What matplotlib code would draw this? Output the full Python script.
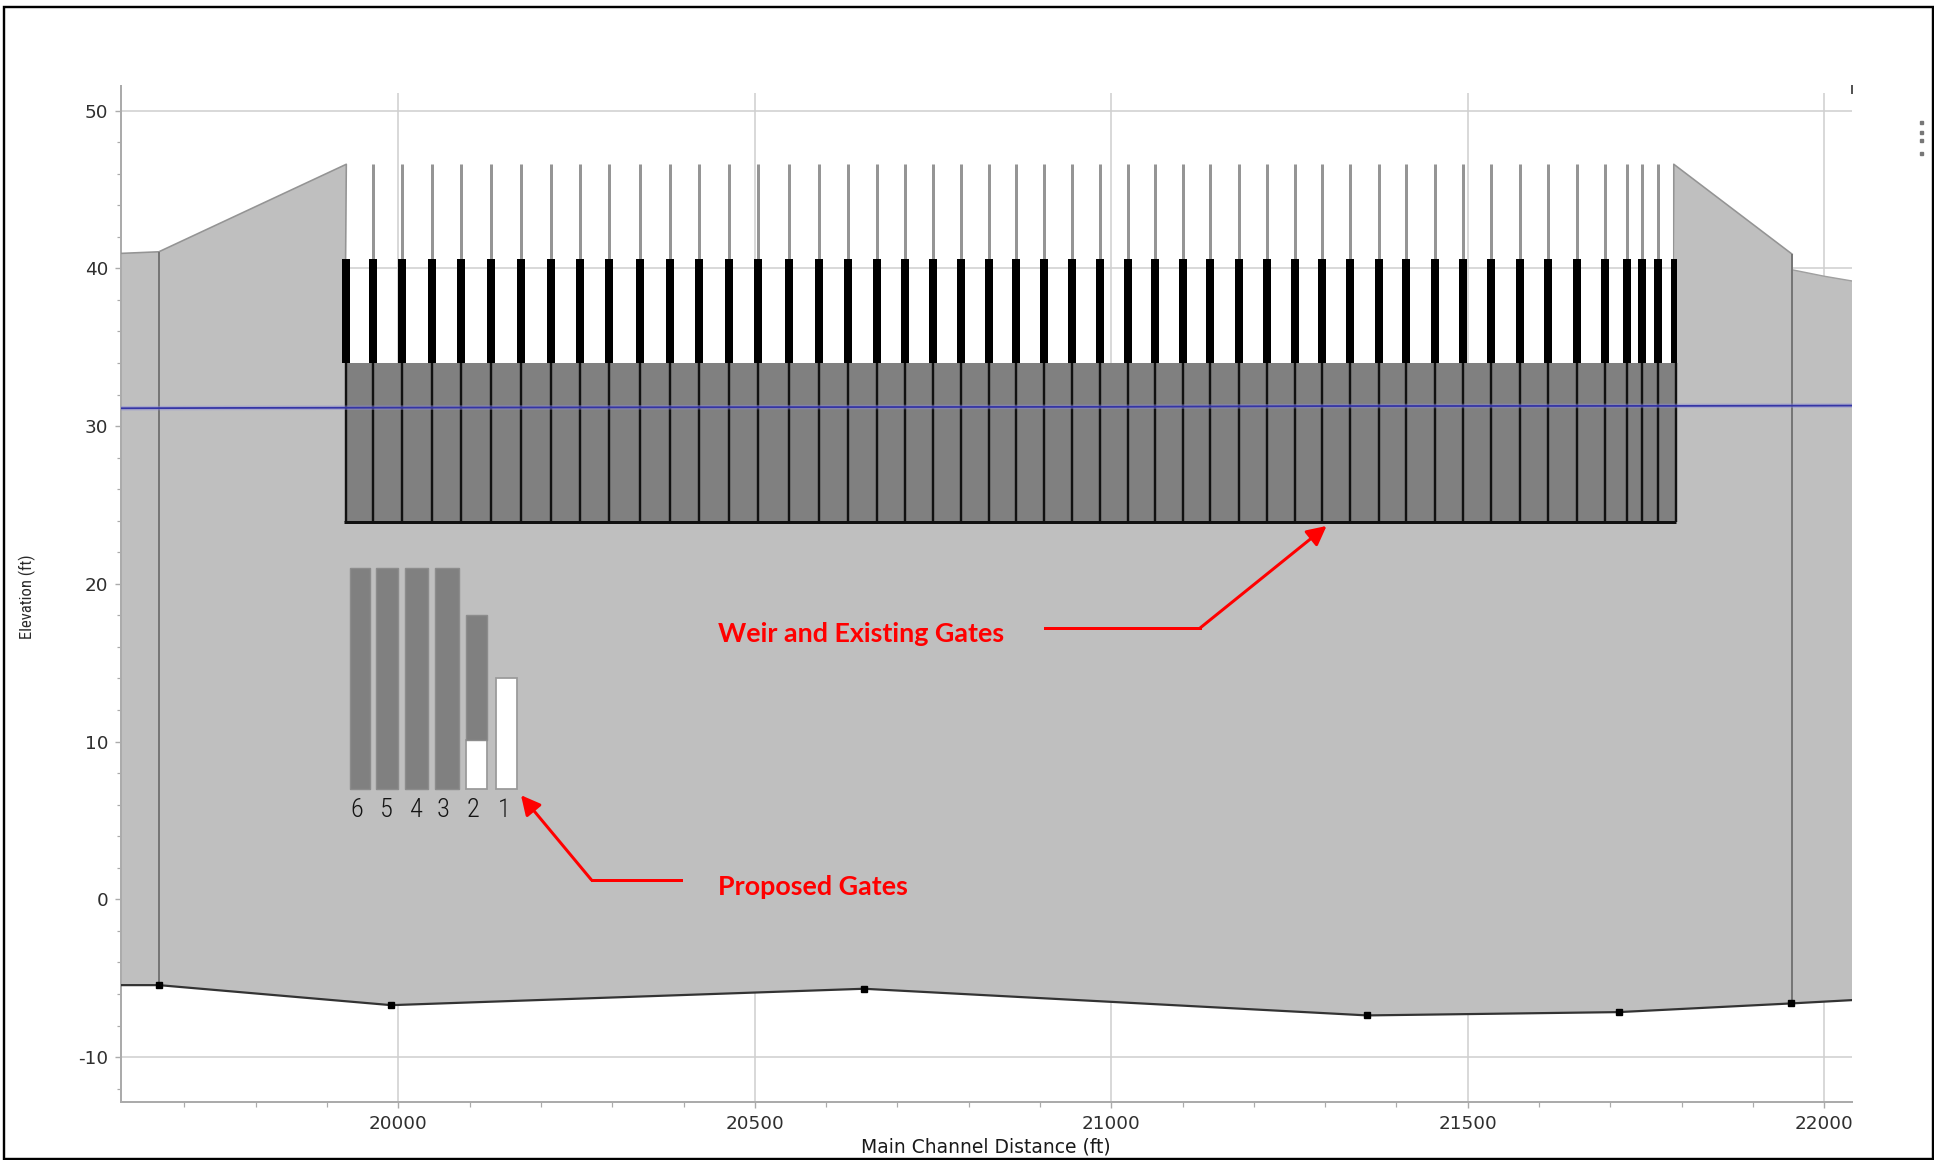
"""Weir and gates profile: elevation along the main channel distance."""
import matplotlib
matplotlib.use("Agg")
import matplotlib.pyplot as plt
from matplotlib.lines import Line2D
from matplotlib.patches import Rectangle
from matplotlib.ticker import MultipleLocator

W, H = 1934, 1160
DPI = 100
PT = 72 / DPI  # one output pixel in points

plt.rcParams["axes.unicode_minus"] = False

# Ground / embankment surface, left of the weir and right of it
left_bank_x = [19611.5, 19664, 19927]
left_bank_z = [40.95, 41.05, 46.6]
right_bank_x = [21789, 21955, 21956, 22000, 22039]
right_bank_z = [46.6, 40.9, 39.9, 39.5, 39.2]

# Channel invert
invert_x = [19611.5, 19664, 19990, 20653, 21359, 21712, 21954, 22039]
invert_z = [-5.44, -5.44, -6.71, -5.67, -7.36, -7.15, -6.6, -6.39]
section_x = [19664, 19990, 20653, 21359, 21712, 21954]
section_z = [-5.44, -6.71, -5.67, -7.36, -7.15, -6.6]

# Water surface
water_x = [19611.5, 19760, 20000, 20500, 21000, 21300, 21789, 22039]
water_z = [31.13, 31.15, 31.17, 31.2, 31.22, 31.27, 31.28, 31.3]

# Weir piers
pier_x = [
    19927, 19965, 20005, 20047, 20088, 20130, 20172, 20214, 20255, 20296,
    20339, 20381, 20422, 20464, 20505, 20548, 20590, 20631, 20671, 20710,
    20750, 20789, 20828, 20866, 20905, 20945, 20984, 21023, 21061, 21100,
    21139, 21179, 21218, 21257, 21296, 21335, 21375, 21414, 21454, 21494,
    21533, 21574, 21613, 21653, 21693, 21723, 21745, 21767, 21789,
]
weir_left, weir_right = 19926, 21792
weir_base, weir_crest = 23.9, 34.0
pier_top, stem_top = 40.6, 46.6

# Proposed gates, numbered right to left
gate_names = ["6", "5", "4", "3", "2", "1"]
gate_left = [19932, 19969, 20010, 20051.7, 20094.4, 20136.6]
gate_right = [19960, 20000, 20042, 20084.4, 20124.6, 20166.8]
gate_top = [21.0, 21.0, 21.0, 21.0, 18.0, 14.0]
gate_open_top = [7.0, 7.0, 7.0, 7.0, 10.1, 14.0]
gate_sill = 7.0
gate_label_x = [19942, 19983, 20026, 20063, 20104, 20148]

x_major = [20000, 20500, 21000, 21500, 22000]
y_major = [-10, 0, 10, 20, 30, 40, 50]

GROUND = "#bfbfbf"
DARK = "#808080"
GRID = "#d0d0d0"
AXIS = "#ababab"
RED = "#ff0000"
TEXT = "#2f2f2f"
NARROW = ["Roboto Condensed", "Liberation Sans"]

fig = plt.figure(figsize=(W / DPI, H / DPI), dpi=DPI, facecolor="white")
ax = fig.add_axes([121.4 / W, 1 - 1101.7 / H, (1852 - 121.4) / W, (1101.7 - 86) / H])
ax.set_xlim(19611.5, 22039)
ax.set_ylim(-12.83, 51.56)
ax.set_facecolor("white")

# Grid stops a little short of the axes top
ax.hlines([-10, 40, 50], 19611.5, 22039, color=GRID, lw=1.6 * PT, zorder=1)
ax.vlines(x_major, -12.83, 51.1, color=GRID, lw=1.6 * PT, zorder=1)

# Ground, with the notch above the weir crest
ground_x = left_bank_x + [weir_left, weir_right] + right_bank_x + invert_x[::-1]
ground_z = left_bank_z + [weir_crest, weir_crest] + right_bank_z + invert_z[::-1]
ax.fill(ground_x, ground_z, facecolor=GROUND, edgecolor="none", zorder=2)
ax.plot(left_bank_x + [weir_left], left_bank_z + [pier_top], color="#949494", lw=1.6 * PT, zorder=3)
ax.plot([right_bank_x[0], right_bank_x[0], right_bank_x[1]], [pier_top, 46.6, 40.9],
        color="#949494", lw=1.6 * PT, zorder=3)
ax.plot(right_bank_x[2:], right_bank_z[2:], color="#a0a0a0", lw=1.4 * PT, zorder=3)

# Section lines at both reaches
ax.vlines([19664, 21955], [-5.44, -6.6], [41.05, 40.9], color="#767676", lw=2 * PT, zorder=3)

# Weir body and piers
ax.add_patch(Rectangle((weir_left, weir_base), weir_right - weir_left, weir_crest - weir_base,
                       facecolor=DARK, edgecolor="none", zorder=4))
ax.vlines(pier_x[1:-1], pier_top, stem_top, color="#959595", lw=3 * PT, zorder=4)
ax.vlines(pier_x[:-1], weir_crest, pier_top, color="black", lw=8 * PT, zorder=5)
ax.vlines(pier_x[-1], weir_crest, pier_top, color="black", lw=6 * PT, zorder=5)
ax.vlines(pier_x[:-1], weir_base, weir_crest, color="#111111", lw=2.4 * PT, zorder=5)
ax.vlines(weir_right, weir_base, weir_crest, color="#111111", lw=2.4 * PT, zorder=5)
ax.hlines(weir_base, weir_left - 2, weir_right, color="#111111", lw=3 * PT, zorder=5)

# Water surface, soft halo plus core
ax.plot(water_x, water_z, color="#8a8ad8", lw=4.5 * PT, alpha=0.45, zorder=6)
ax.plot(water_x, water_z, color="#3535a5", lw=1.8 * PT, zorder=6)

# Channel invert
ax.plot(invert_x, invert_z, color="#333333", lw=2.2 * PT, zorder=7)
ax.plot(section_x, section_z, ls="none", marker="s", color="black", ms=6.5 * PT, zorder=8)

# Proposed gates
for left, right, top, open_top in zip(gate_left, gate_right, gate_top, gate_open_top):
    if open_top > gate_sill:
        ax.add_patch(Rectangle((left, gate_sill), right - left, open_top - gate_sill,
                               facecolor="white", edgecolor="#9b9b9b", lw=1.8 * PT, zorder=4))
    if top > open_top:
        ax.add_patch(Rectangle((left, open_top), right - left, top - open_top,
                               facecolor=DARK, edgecolor="#8c8c8c", lw=1.4 * PT, zorder=4))
for name, gx in zip(gate_names, gate_label_x):
    ax.text(gx, 5.66, name, ha="center", va="center", fontsize=19, fontweight="light",
            color="#151515", family=NARROW, zorder=9)

# Red callouts: a horizontal run, then the arrow from the elbow
for start_x, elbow_x, elbow_z, tip in (
    (20907, 21124, 17.18, (21302, 23.67)),
    (20396, 20271, 1.22, (20172, 6.6)),
):
    ax.plot([start_x, elbow_x], [elbow_z, elbow_z], color=RED, lw=3 * PT, zorder=9)
    ax.annotate("", xy=tip, xytext=(elbow_x, elbow_z), zorder=9,
                arrowprops=dict(arrowstyle="-|>,head_length=0.65,head_width=0.33", color=RED,
                                lw=3 * PT, shrinkA=0, shrinkB=0, mutation_scale=18))
ax.text(20449, 16.3, "Weir and Existing Gates", color=RED, fontsize=19.4, fontweight="bold",
        family="Lato", va="baseline", zorder=9)
ax.text(20449, 0.27, "Proposed Gates", color=RED, fontsize=19.4, fontweight="bold",
        family="Lato", va="baseline", zorder=9)

# Axes
for side in ("top", "right"):
    ax.spines[side].set_visible(False)
for side in ("left", "bottom"):
    ax.spines[side].set_color(AXIS)
    ax.spines[side].set_linewidth(2 * PT)
ax.set_xticks(x_major)
ax.set_yticks(y_major)
ax.xaxis.set_minor_locator(MultipleLocator(100))
ax.yaxis.set_minor_locator(MultipleLocator(2))
ax.tick_params(which="major", length=6 * PT, width=1.4 * PT, color=AXIS, labelcolor=TEXT, labelsize=13.2)
ax.tick_params(which="minor", length=4.5 * PT, width=1.2 * PT, color=AXIS)
ax.tick_params(axis="x", which="major", pad=5)
ax.tick_params(axis="y", which="major", pad=5)

fig.text(986 / W, 1 - 1147 / H, "Main Channel Distance (ft)", ha="center", va="center",
         fontsize=13.5, color="#1a1a1a")
fig.text(27 / W, 1 - 597 / H, "Elevation (ft)", ha="center", va="center", rotation=90,
         fontsize=12, color="#2a2a2a", family=NARROW)

# Stray scan marks at the top right and the sheet border
ax.plot([22039, 22039], [51.1, 51.56], color="#555555", lw=2 * PT, clip_on=False, zorder=9)
fig.add_artist(Line2D([1921 / W] * 4, [1 - y / H for y in (122, 132, 140, 153)], ls="none",
                      marker="s", ms=3 * PT, color="#777777", transform=fig.transFigure))
fig.add_artist(Rectangle((4 / W, 1 - 1159 / H), (1933 - 4) / W, (1159 - 7) / H,
                         transform=fig.transFigure, fill=False, edgecolor="black", lw=2.4 * PT))

fig.savefig("out.png", dpi=DPI, facecolor="white")
